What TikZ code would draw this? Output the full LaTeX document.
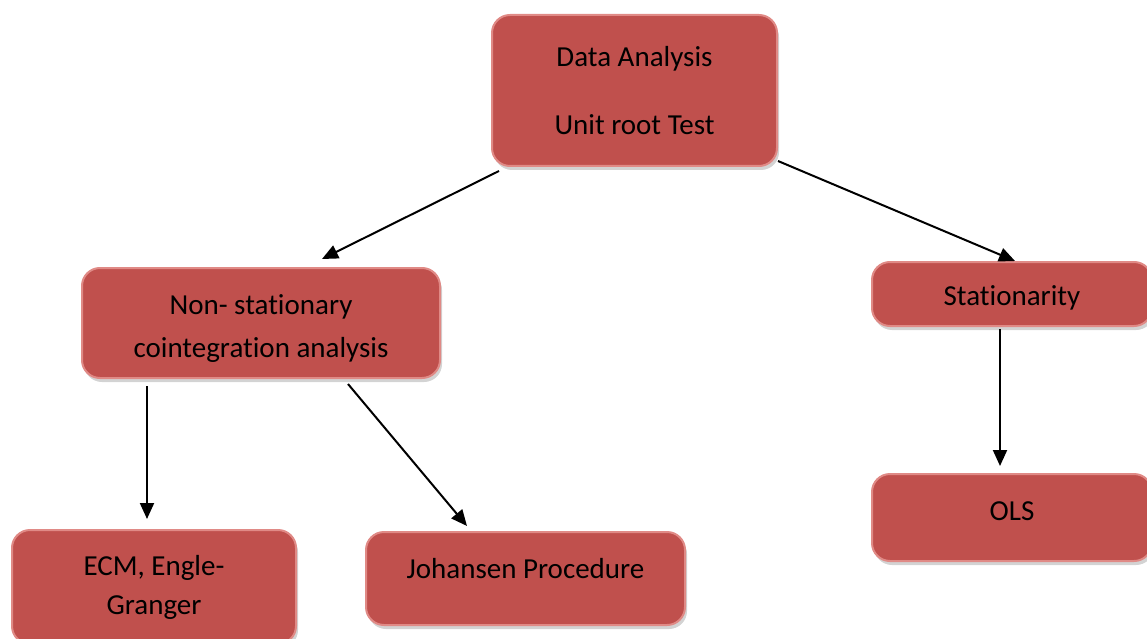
\documentclass[tikz,border=0pt]{standalone}
\usepackage{fontspec}
\setmainfont[Ligatures=NoCommon]{Carlito}
\usepackage{tikz}
\usetikzlibrary{arrows.meta,shadows,calc}
\definecolor{boxred}{HTML}{C0504D}
\definecolor{boxedge}{HTML}{E08A86}

\begin{document}
\begin{tikzpicture}[
 x=1pt, y=-1pt,
 box/.style={rectangle, rounded corners=18pt, fill=boxred, draw=boxedge, line width=2pt,
   align=center, font=\fontsize{29}{40}\selectfont, inner sep=0pt,
   drop shadow={shadow xshift=2pt, shadow yshift=-4pt, opacity=0.35}},
 arr/.style={-{Triangle[length=16pt,width=14pt]}, line width=2pt},
]
 \useasboundingbox (0,0) rectangle (1147,639);
 %
 \node[box, minimum width=285, minimum height=151] (top) at (634.5,90.5)
   {Data Analysis\\[28pt]Unit root Test};
 \node[box, minimum width=358, minimum height=110] (nonstat) at (261,323)
   {\rule{0pt}{30pt}Non- stationary\\[3pt]cointegration analysis};
 \node[box, minimum width=280, minimum height=64, text height=27pt, text depth=4pt] (stat) at (1012,294) {Stationarity};
 \node[box, minimum width=280, minimum height=87, text height=20pt, text depth=14pt] (ols) at (1012,517.5) {OLS};
 \node[box, minimum width=284, minimum height=114] (ecm) at (154,587) {ECM, Engle-\\[-1pt]Granger};
 \node[box, minimum width=319, minimum height=93, text height=20pt, text depth=21pt] (joh) at (525.5,578.5) {Johansen Procedure};
 %
 \draw[arr] ([xshift=8pt,yshift=-4pt]top.south west) -- ([xshift=61pt,yshift=8pt]nonstat.north);
 \draw[arr] ([yshift=6pt]top.south east) -- ([xshift=3pt]stat.north);
 \draw[arr] ([xshift=-114pt,yshift=-7pt]nonstat.south) -- ([xshift=-7pt,yshift=10pt]ecm.north);
 \draw[arr] ([xshift=87pt,yshift=-5pt]nonstat.south) -- ([xshift=-58.5pt,yshift=5pt]joh.north);
 \draw[arr] ([xshift=-12pt,yshift=-2pt]stat.south) -- ([xshift=-12pt,yshift=7pt]ols.north);
\end{tikzpicture}
\end{document}
